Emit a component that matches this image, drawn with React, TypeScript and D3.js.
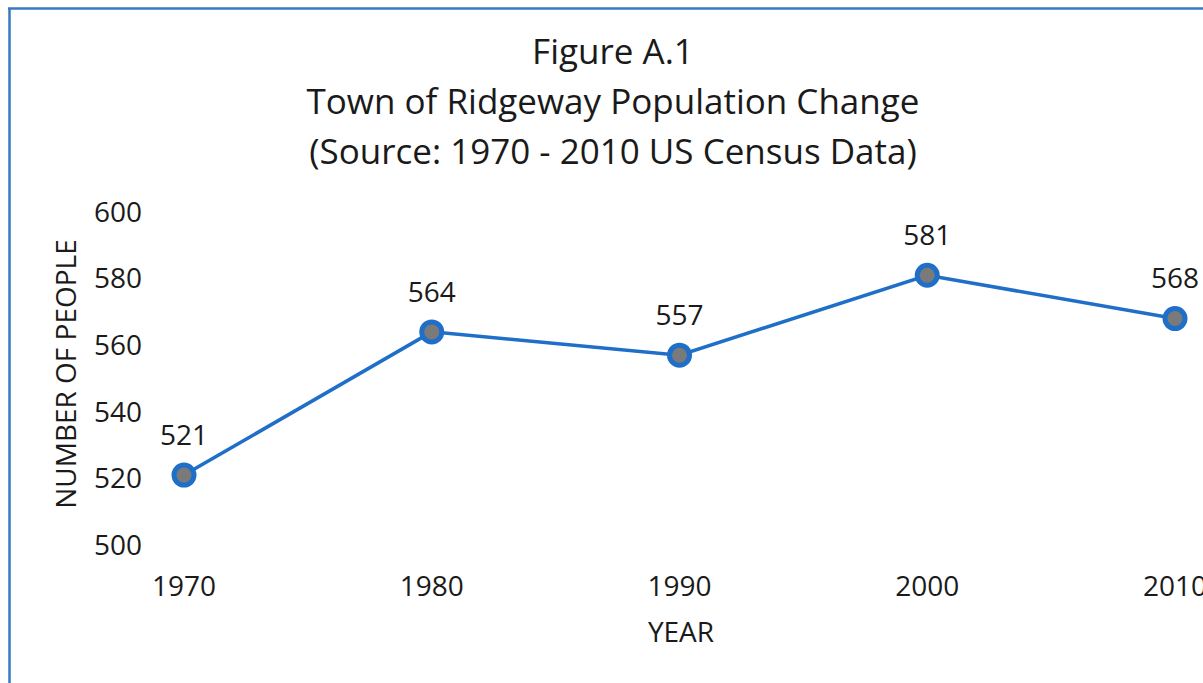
import React from "react";
import * as d3 from "d3";

const years = [1970, 1980, 1990, 2000, 2010];
const population = [521, 564, 557, 581, 568];
const yTicks = [500, 520, 540, 560, 580, 600];
const titleLines = ["Figure A.1", "Town of Ridgeway Population Change", "(Source: 1970 - 2010 US Census Data)"];

const W = 1203;
const H = 683;
const FONT = "'Open Sans', 'Noto Sans', sans-serif";

export default function App() {
  const x = d3.scalePoint<number>().domain(years).range([184, 1175]);
  const y = d3.scaleLinear().domain([500, 600]).range([545, 212]);
  const line = d3
    .line<number>()
    .x((_, i) => x(years[i]) as number)
    .y((d) => y(d));
  const blue = "#1f6fc8";
  return (
    <svg
      width={W}
      height={H}
      style={{ position: "absolute", left: 0, top: 0, display: "block", background: "#fff" }}
    >
      <rect x={0} y={0} width={W} height={H} fill="#fff" />
      {/* border */}
      <line x1={9.5} y1={8} x2={9.5} y2={H} stroke="#3a78c0" strokeWidth={2.5} />
      <line x1={8} y1={8.5} x2={W} y2={8.5} stroke="#3a78c0" strokeWidth={2.5} />
      {/* title */}
      {titleLines.map((t, i) => (
        <text
          key={i}
          x={613}
          y={64 + i * 50}
          textAnchor="middle"
          fontFamily={FONT}
          fontSize={35}
          fill="#1a1a1a"
        >
          {t}
        </text>
      ))}
      {/* y ticks */}
      {yTicks.map((t) => (
        <text
          key={t}
          x={142}
          y={y(t)}
          dy="0.35em"
          textAnchor="end"
          fontFamily={FONT}
          fontSize={28}
          fill="#1a1a1a"
        >
          {t}
        </text>
      ))}
      {/* x ticks */}
      {years.map((yr) => (
        <text
          key={yr}
          x={x(yr) as number}
          y={586}
          dy="0.35em"
          textAnchor="middle"
          fontFamily={FONT}
          fontSize={28}
          fill="#1a1a1a"
        >
          {yr}
        </text>
      ))}
      {/* axis titles */}
      <text
        transform={`translate(66,374) rotate(-90)`}
        textAnchor="middle"
        dy="0.35em"
        fontFamily={FONT}
        fontSize={28}
        fill="#1a1a1a"
      >
        NUMBER OF PEOPLE
      </text>
      <text x={681} y={632} dy="0.35em" textAnchor="middle" fontFamily={FONT} fontSize={28} fill="#1a1a1a">
        YEAR
      </text>
      {/* line */}
      <path d={line(population) || ""} fill="none" stroke={blue} strokeWidth={3.5} />
      {population.map((v, i) => (
        <g key={i}>
          <circle cx={x(years[i]) as number} cy={y(v)} r={10} fill="#7a7a7a" stroke={blue} strokeWidth={5} />
          <text
            x={x(years[i]) as number}
            y={y(v) - 40}
            dy="0.35em"
            textAnchor="middle"
            fontFamily={FONT}
            fontSize={28}
            fill="#1a1a1a"
          >
            {v}
          </text>
        </g>
      ))}
    </svg>
  );
}
